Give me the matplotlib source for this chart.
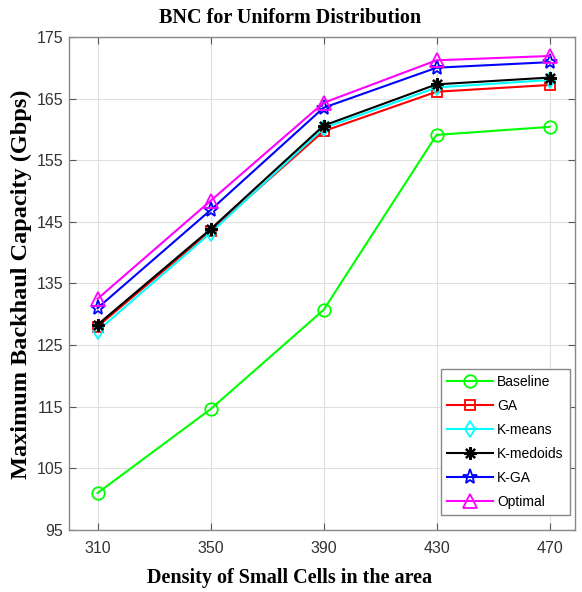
import matplotlib
matplotlib.use("Agg")
import matplotlib.pyplot as plt

density = [310, 350, 390, 430, 470]
baseline = [101.0, 114.6, 130.7, 159.1, 160.4]
ga = [128.0, 143.5, 159.7, 166.1, 167.2]
kmeans = [127.3, 143.2, 160.2, 166.8, 168.0]
kmedoids = [128.3, 143.8, 160.6, 167.3, 168.4]
kga = [131.0, 146.9, 163.5, 170.0, 170.9]
optimal = [132.5, 148.4, 164.3, 171.2, 171.9]

y_ticks = [95, 105, 115, 125, 135, 145, 155, 165, 175]

# (label, values, colour, marker, marker size)
series = [
    ("Baseline", baseline, "#00ff00", "o", 9),
    ("GA", ga, "#ff0000", "s", 7),
    ("K-means", kmeans, "#00ffff", "d", 8),
    ("K-medoids", kmedoids, "#000000", (8, 2, 0), 9),
    ("K-GA", kga, "#0000ff", "*", 11),
    ("Optimal", optimal, "#ff00ff", "^", 10),
]

fig = plt.figure(figsize=(5.82, 5.92), dpi=100)
ax = fig.add_axes([0.119, 0.1047, 0.869, 0.833])

for name, vals, color, marker, ms in series:
    ax.plot(density, vals, color=color, lw=1.5, marker=marker, markersize=ms,
            markerfacecolor="none", markeredgecolor=color,
            markeredgewidth=1.6 if name == "K-medoids" else 1.3, label=name)

ax.set_xlim(300, 479)
ax.set_ylim(95, 175)
ax.set_xticks(density)
ax.set_yticks(y_ticks)
ax.grid(True, color="#e0e0e0", lw=0.8)
ax.set_axisbelow(True)
ax.tick_params(direction="in", top=True, right=True, length=5, color="#555555",
               labelsize=11.5, labelcolor="#333333")
ax.tick_params(axis="x", pad=8)
ax.tick_params(axis="y", pad=4.5)
for lbl in ax.get_xticklabels() + ax.get_yticklabels():
    lbl.set_family("Liberation Sans")
for sp in ax.spines.values():
    sp.set_color("#888888")
    sp.set_linewidth(1.0)

fig.text(0.498, 0.970, "BNC for Uniform Distribution", family="Liberation Serif",
         fontweight="bold", fontsize=14.5, ha="center", va="center")
fig.text(0.498, 0.024, "Density of Small Cells in the area", family="Liberation Serif",
         fontweight="bold", fontsize=14.5, ha="center", va="center")
fig.text(0.036, 0.52, "Maximum Backhaul Capacity (Gbps)", family="Liberation Serif",
         fontweight="bold", fontsize=17.5, ha="center", va="center", rotation=90)

leg = ax.legend(loc="lower right", bbox_to_anchor=(0.990, 0.030),
                prop={"family": "Liberation Sans", "size": 10},
                fancybox=False, framealpha=1, edgecolor="#888888",
                handlelength=3.3, handletextpad=0.3, labelspacing=0.72,
                borderpad=0.45, borderaxespad=0)
leg.get_frame().set_linewidth(1.0)

fig.savefig("out.png", dpi=100)
